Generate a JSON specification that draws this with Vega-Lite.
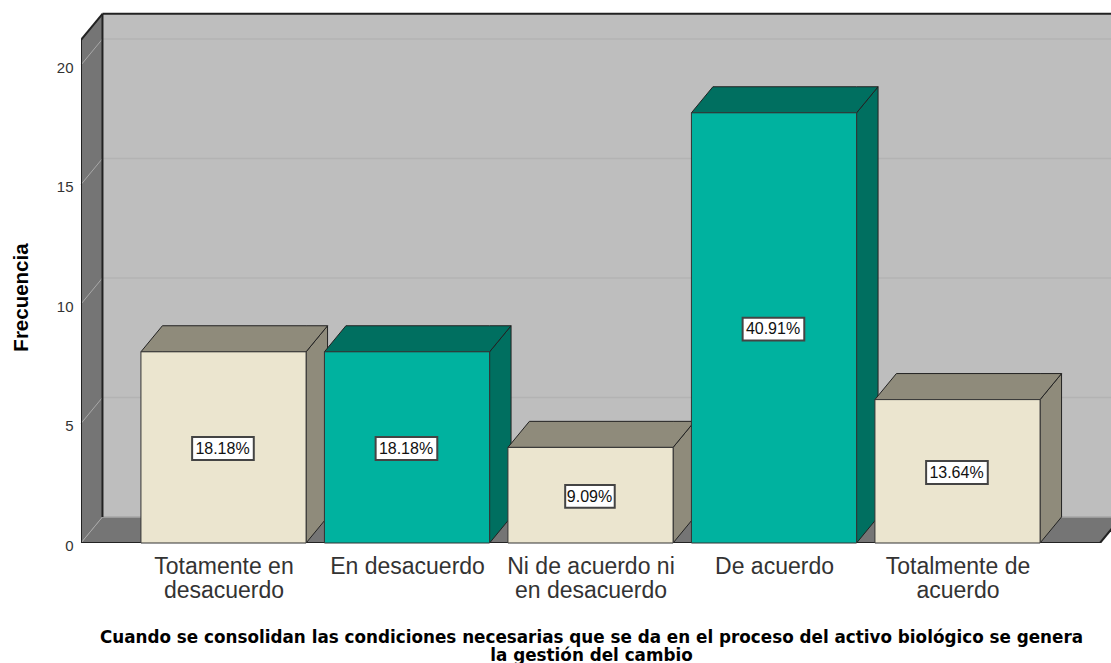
{"$schema":"https://vega.github.io/schema/vega-lite/v6.json","width":1030,"height":543,"autosize":{"type":"none"},"padding":{"left":81,"top":0,"right":0,"bottom":120},"background":"white","config":{"view":{"stroke":null},"font":"Liberation Sans"},"datasets":{"bars":[{"idx":1,"categoria":"Totamente en desacuerdo","frecuencia":8,"pct":"18.18%"},{"idx":2,"categoria":"En desacuerdo","frecuencia":8,"pct":"18.18%"},{"idx":3,"categoria":"Ni de acuerdo ni en desacuerdo","frecuencia":4,"pct":"9.09%"},{"idx":4,"categoria":"De acuerdo","frecuencia":18,"pct":"40.91%"},{"idx":5,"categoria":"Totalmente de acuerdo","frecuencia":6,"pct":"13.64%"}],"ticks":[{"v":0},{"v":5},{"v":10},{"v":15},{"v":20}]},"encoding":{"x":{"field":"x","type":"quantitative","scale":{"domain":[0.2234,5.8365],"nice":false,"zero":false},"axis":{"values":[1,2,3,4,5],"labelExpr":"datum.value==1?['Totamente en','desacuerdo']:datum.value==2?['En desacuerdo']:datum.value==3?['Ni de acuerdo ni','en desacuerdo']:datum.value==4?['De acuerdo']:['Totalmente de','acuerdo']","grid":false,"domain":false,"ticks":false,"labelFontSize":23,"labelLineHeight":24,"labelColor":"#333333","labelPadding":12,"labelOverlap":false,"labelFlush":false,"labelBound":false,"labelBaseline":"top","title":["Cuando se consolidan las condiciones necesarias que se da en el proceso del activo biológico se genera","la gestión del cambio"],"titleFont":"DejaVu Sans","titleFontSize":16.8,"titleFontWeight":"bold","titleColor":"#000000","titleLineHeight":18,"titleX":510,"titleY":94,"titleAlign":"center","titleBaseline":"middle"}},"y":{"field":"hi","type":"quantitative","stack":null,"scale":{"domain":[0,22.72],"nice":false,"zero":false},"axis":{"values":[0,5,10,15,20],"grid":false,"domain":false,"ticks":false,"labelFontSize":15,"labelColor":"#333333","labelPadding":8,"labelOffset":2,"title":"Frecuencia","titleFontSize":20.5,"titleFontWeight":"bold","titleColor":"#000000","titleX":-60,"titleY":297,"titleAlign":"center","titleBaseline":"middle"}}},"layer":[{"data":{"values":[{"cara":"fondo"}]},"transform":[{"calculate":"0.3404","as":"x"},{"calculate":"6","as":"x2"},{"calculate":"22.14","as":"hi"},{"calculate":"1.09","as":"lo"}],"mark":{"type":"rect","fill":"#BEBEBE","clip":true},"encoding":{"x2":{"field":"x2"},"y2":{"field":"lo"}}},{"data":{"name":"ticks"},"transform":[{"calculate":"0.3404","as":"x"},{"calculate":"6","as":"x2"},{"calculate":"datum.v+1.09","as":"hi"},{"calculate":"datum.v+1.09","as":"lo"}],"mark":{"type":"rule","stroke":"#B3B3B3","strokeWidth":1.5,"clip":true},"encoding":{"x2":{"field":"x2"},"y2":{"field":"lo"}}},{"data":{"values":[{"cara":"pared"}]},"transform":[{"calculate":"[0.2234,0.3404]","as":"x"},{"calculate":"[21.05,22.14]","as":"hi"},{"calculate":"[0,1.09]","as":"lo"},{"flatten":["x","hi","lo"]}],"mark":{"type":"area","orient":"vertical","fill":"#757575","clip":true},"encoding":{"y2":{"field":"lo"}}},{"data":{"values":[{"cara":"piso"}]},"transform":[{"calculate":"[0.2234,0.3404,5.7766,5.8936]","as":"x"},{"calculate":"[0,1.09,1.09,1.09]","as":"hi"},{"calculate":"[0,0,0,1.09]","as":"lo"},{"flatten":["x","hi","lo"]}],"mark":{"type":"area","orient":"vertical","fill":"#757575","clip":true},"encoding":{"y2":{"field":"lo"}}},{"data":{"name":"ticks"},"transform":[{"calculate":"0.2234","as":"x"},{"calculate":"0.3404","as":"x2"},{"calculate":"datum.v","as":"hi"},{"calculate":"datum.v+1.09","as":"lo"}],"mark":{"type":"rule","stroke":"#A8A8A8","strokeWidth":1},"encoding":{"x2":{"field":"x2"},"y2":{"field":"lo"}}},{"data":{"values":[{"x":0.3404,"x2":5.9,"hi":1.09,"lo":1.09}]},"mark":{"type":"rule","stroke":"#A8A8A8","strokeWidth":1.5,"clip":true},"encoding":{"x2":{"field":"x2"},"y2":{"field":"lo"}}},{"data":{"values":[{"x":0.2234,"x2":0.2234,"hi":21.05,"lo":0},{"x":0.3404,"x2":0.3404,"hi":22.14,"lo":1.09},{"x":0.2234,"x2":0.3404,"hi":21.05,"lo":22.14},{"x":0.3404,"x2":6,"hi":22.14,"lo":22.14},{"x":0.2234,"x2":5.7766,"hi":0,"lo":0},{"x":5.7766,"x2":5.8936,"hi":0,"lo":1.09}]},"mark":{"type":"rule","stroke":"#222222","strokeWidth":2,"clip":true},"encoding":{"x2":{"field":"x2"},"y2":{"field":"lo"}}},{"data":{"name":"bars"},"transform":[{"calculate":"[datum.idx+0.45,datum.idx+0.567]","as":"x"},{"calculate":"[datum.frecuencia,datum.frecuencia+1.09]","as":"hi"},{"calculate":"[0,1.09]","as":"lo"},{"flatten":["x","hi","lo"]}],"mark":{"type":"area","orient":"vertical","stroke":"#222222","strokeWidth":1},"encoding":{"detail":{"field":"idx"},"y2":{"field":"lo"},"fill":{"condition":{"test":"datum.idx==2||datum.idx==4","value":"#006F60"},"value":"#8F8B7B"}}},{"data":{"name":"bars"},"transform":[{"calculate":"[datum.idx-0.45,datum.idx-0.333,datum.idx+0.45,datum.idx+0.567]","as":"x"},{"calculate":"[datum.frecuencia,datum.frecuencia+1.09,datum.frecuencia+1.09,datum.frecuencia+1.09]","as":"hi"},{"calculate":"[datum.frecuencia,datum.frecuencia,datum.frecuencia,datum.frecuencia+1.09]","as":"lo"},{"flatten":["x","hi","lo"]}],"mark":{"type":"area","orient":"vertical","stroke":"#222222","strokeWidth":1},"encoding":{"detail":{"field":"idx"},"y2":{"field":"lo"},"fill":{"condition":{"test":"datum.idx==2||datum.idx==4","value":"#006F60"},"value":"#8F8B7B"}}},{"data":{"name":"bars"},"transform":[{"calculate":"datum.idx-0.45","as":"x"},{"calculate":"datum.idx+0.45","as":"x2"},{"calculate":"datum.frecuencia","as":"hi"},{"calculate":"0","as":"lo"}],"mark":{"type":"rect","stroke":"#333333","strokeWidth":1},"encoding":{"x2":{"field":"x2"},"y2":{"field":"lo"},"fill":{"condition":{"test":"datum.idx==2||datum.idx==4","value":"#00B29F"},"value":"#EBE5CF"}}},{"data":{"name":"bars"},"transform":[{"calculate":"datum.pct=='9.09%'?0.135:0.168","as":"hw"},{"calculate":"datum.idx-datum.hw-0.003","as":"x"},{"calculate":"datum.idx+datum.hw-0.003","as":"x2"},{"calculate":"datum.frecuencia/2+0.43","as":"hi"},{"calculate":"datum.frecuencia/2-0.53","as":"lo"}],"mark":{"type":"rect","fill":"#FFFFFF","stroke":"#444444","strokeWidth":2},"encoding":{"x2":{"field":"x2"},"y2":{"field":"lo"}}},{"data":{"name":"bars"},"transform":[{"calculate":"datum.idx","as":"x"},{"calculate":"datum.frecuencia/2","as":"hi"}],"mark":{"type":"text","fontSize":16,"color":"#111111","baseline":"middle","align":"center","dy":1.5,"dx":-1},"encoding":{"text":{"field":"pct"}}}]}
